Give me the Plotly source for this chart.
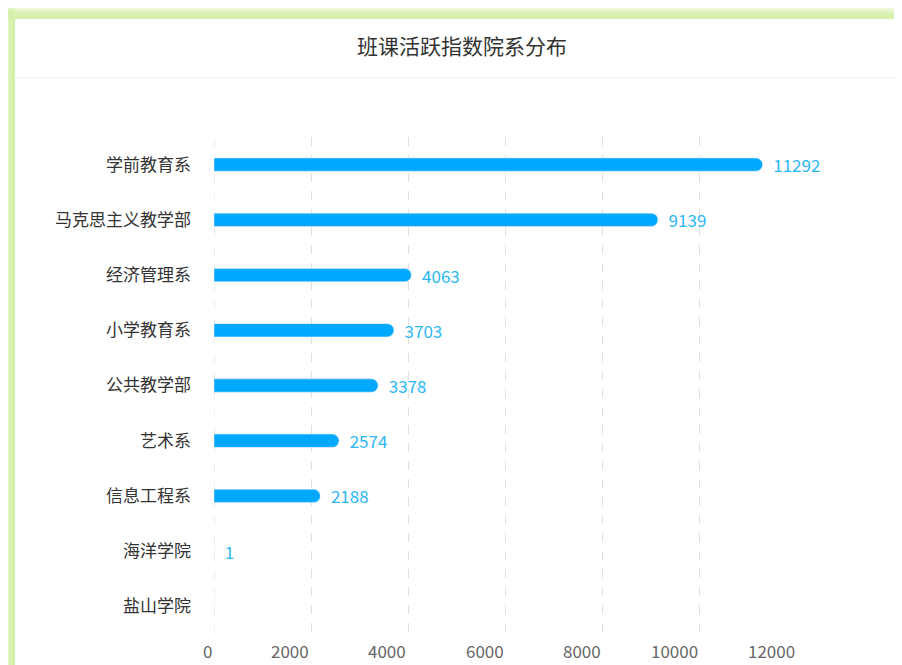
import plotly.graph_objects as go

title = "班课活跃指数院系分布"
departments = ["学前教育系", "马克思主义教学部", "经济管理系", "小学教育系", "公共教学部",
               "艺术系", "信息工程系", "海洋学院", "盐山学院"]
values = [11292, 9139, 4063, 3703, 3378, 2574, 2188, 1, 0]
tick_vals = [0, 2000, 4000, 6000, 8000, 10000, 12000]
tick_text = ["0", "2000", "4000", "6000", "8000", "10000", "12000"]

FONT = "Noto Sans CJK SC, Microsoft YaHei, sans-serif"
W, H = 902, 665
OFF = 8  # page offset of the figure
L, R, T, B = 214 - OFF, 105 + OFF, 137 - OFF, 31 + OFF
PW, PH = W - L - R, H - T - B


def px(xp):  # page x -> paper
    return (xp - OFF - L) / PW


def py(yp):  # page y -> paper
    return (H - B - (yp - OFF)) / PH


labels = ["  " + str(v) if v > 0 else "" for v in values]

fig = go.Figure()
fig.add_trace(go.Bar(
    y=departments, x=values, orientation="h",
    marker=dict(color="#00A8FF", cornerradius=7),
    width=0.24,
    text=labels, textposition="outside", constraintext="none",
    textfont=dict(color="#2DB7F5", size=17, family=FONT),
    cliponaxis=False, hoverinfo="x+y",
))

shapes = []
glow = [(0, 0.12), (3, 0.3), (6, 0.5), (9, 0.7), (12, 0.9)]
for off, op in glow:
    shapes.append(dict(type="rect", xref="paper", yref="paper",
                       x0=px(off), x1=px(15), y0=py(H + 10), y1=py(3 + off),
                       fillcolor="#D6F0A8", opacity=op, line=dict(width=0), layer="below"))
    shapes.append(dict(type="rect", xref="paper", yref="paper",
                       x0=px(off), x1=px(W + 10), y0=py(19), y1=py(4 + off),
                       fillcolor="#D6F0A8", opacity=op, line=dict(width=0), layer="below"))
shapes.append(dict(type="line", xref="paper", yref="paper",
                   x0=px(15), x1=px(W + 10), y0=py(78), y1=py(78),
                   line=dict(color="#EEEEEE", width=1), layer="below"))
# dashed grid line at x = 0
shapes.append(dict(type="line", xref="x", yref="paper", x0=0, x1=0, y0=0, y1=1,
                   line=dict(color="#E0E0E0", width=1, dash="dash"), layer="below"))

annotations = [dict(text=title, xref="paper", yref="paper",
                    x=px(462), y=py(45),
                    xanchor="center", yanchor="middle", showarrow=False,
                    font=dict(size=21, color="#333333", family=FONT))]
# x tick labels, right-aligned to their grid lines
for v, t in zip(tick_vals, tick_text):
    annotations.append(dict(text=t, xref="x", yref="paper", x=v, y=py(650),
                            xanchor="right", yanchor="middle", showarrow=False,
                            font=dict(size=17, color="#666666", family=FONT)))

fig.update_layout(
    width=W, height=H,
    margin=dict(l=L, r=R, t=T, b=B, pad=0),
    paper_bgcolor="white", plot_bgcolor="white",
    showlegend=False,
    shapes=shapes,
    annotations=annotations,
    font=dict(family=FONT, color="#333333"),
    xaxis=dict(range=[0, 12000], tickvals=tick_vals, showticklabels=False, showgrid=True,
               gridcolor="#E0E0E0", griddash="dash", gridwidth=1,
               zeroline=False, showline=False, ticks=""),
    yaxis=dict(autorange="reversed", showgrid=False, zeroline=False, showline=False,
               ticks="", ticklabelstandoff=22,
               tickfont=dict(size=17, color="#333333", family=FONT)),
)

fig.write_html("out.html")
